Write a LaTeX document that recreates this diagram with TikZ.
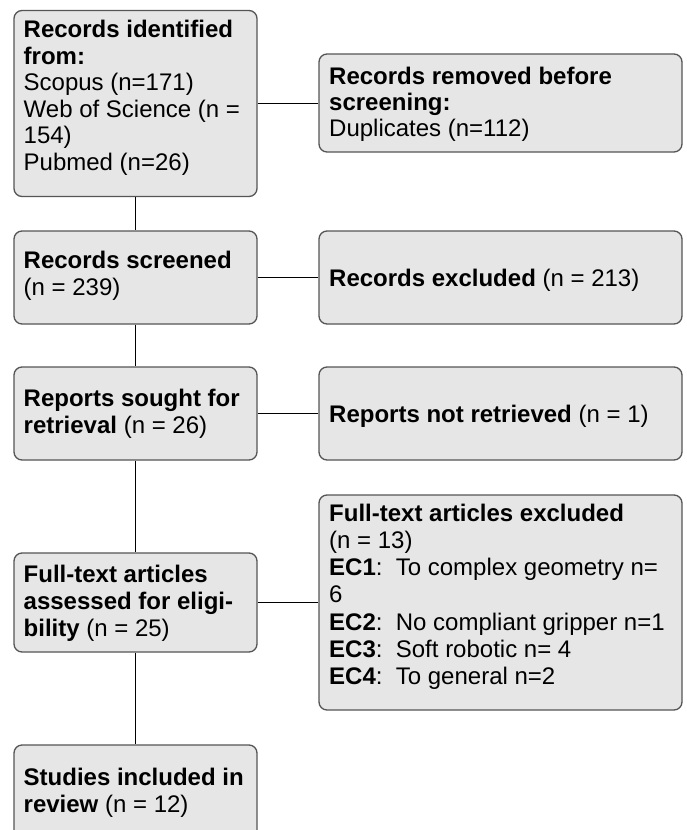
\documentclass[tikz,border=0pt]{standalone}
\usepackage{fontspec}
\setmainfont{Liberation Sans}
\definecolor{boxfill}{HTML}{E6E6E6}
\definecolor{boxborder}{HTML}{555555}
\newcommand{\lines}[1]{\begin{tabular}[t]{@{}l@{}}#1\end{tabular}}
\tikzset{
  fbox/.style={draw=boxborder, fill=boxfill, rounded corners=8pt, line width=1.3pt,
    inner sep=0pt, anchor=center},
  lbox/.style={fbox, minimum width=243},
  rbox/.style={fbox, minimum width=363},
  txt/.style={inner sep=0pt, anchor=base west, font=\fontsize{24}{27}\selectfont},
  conn/.style={draw=black, line width=1.1pt}
}
\begin{document}
\begin{tikzpicture}[x=1pt,y=1pt]
\useasboundingbox (0,0) rectangle (686,-830);
% left column boxes
\node[lbox, minimum height=186] (b1) at (135.5,-103.5) {};
\node[lbox, minimum height=93] (b2) at (135.5,-277.5) {};
\node[lbox, minimum height=93] (b3) at (135.5,-413.5) {};
\node[lbox, minimum height=99] (b4) at (135.5,-602.5) {};
\node[lbox, minimum height=93] (b5) at (135.5,-791.5) {};
% right column boxes
\node[rbox, minimum height=98] (r1) at (500.5,-103) {};
\node[rbox, minimum height=93] (r2) at (500.5,-277.5) {};
\node[rbox, minimum height=93] (r3) at (500.5,-413.5) {};
\node[rbox, minimum height=215] (r4) at (500.5,-602.5) {};
% texts
\node[txt, font=\fontsize{24}{26.6}\selectfont] (t1) at (23.5,-37.5) {\lines{\textbf{Records identified}\\\textbf{from:}\\Scopus (n=171)\\Web of Science (n =\\154)\\Pubmed (n=26)}};
\node[txt] (t2) at (23.5,-268.5) {\lines{\textbf{Records screened}\\(n = 239)}};
\node[txt] (t3) at (23.5,-406) {\lines{\textbf{Reports sought for}\\\textbf{retrieval} (n = 26)}};
\node[txt] (t4) at (23.5,-582) {\lines{\textbf{Full-text articles}\\\textbf{assessed for eligi-}\\\textbf{bility} (n = 25)}};
\node[txt] (t5) at (23.5,-785) {\lines{\textbf{Studies included in}\\\textbf{review} (n = 12)}};
\node[txt, font=\fontsize{24}{26}\selectfont] (s1) at (329,-84) {\lines{\textbf{Records removed before}\\\textbf{screening:}\\Duplicates (n=112)}};
\node[txt] (s2) at (329,-286) {\textbf{Records excluded} (n = 213)};
\node[txt] (s3) at (329,-422) {\textbf{Reports not retrieved} (n = 1)};
\node[txt, font=\fontsize{24}{27.3}\selectfont] (s4) at (329,-521) {\lines{\textbf{Full-text articles excluded}\\(n = 13)\\\textbf{EC1}:\ \ To complex geometry n=\\6\\\textbf{EC2}:\ \ No compliant gripper n=1\\\textbf{EC3}:\ \ Soft robotic n= 4\\\textbf{EC4}:\ \ To general n=2}};
% connectors
\draw[conn] (b1.south) -- (b2.north);
\draw[conn] (b2.south) -- (b3.north);
\draw[conn] (b3.south) -- (b4.north);
\draw[conn] (b4.south) -- (b5.north);
\draw[conn] (b1.east) -- (b1.east -| r1.west);
\draw[conn] (b2.east) -- (r2.west);
\draw[conn] (b3.east) -- (r3.west);
\draw[conn] (b4.east) -- (r4.west);
\end{tikzpicture}
\end{document}
